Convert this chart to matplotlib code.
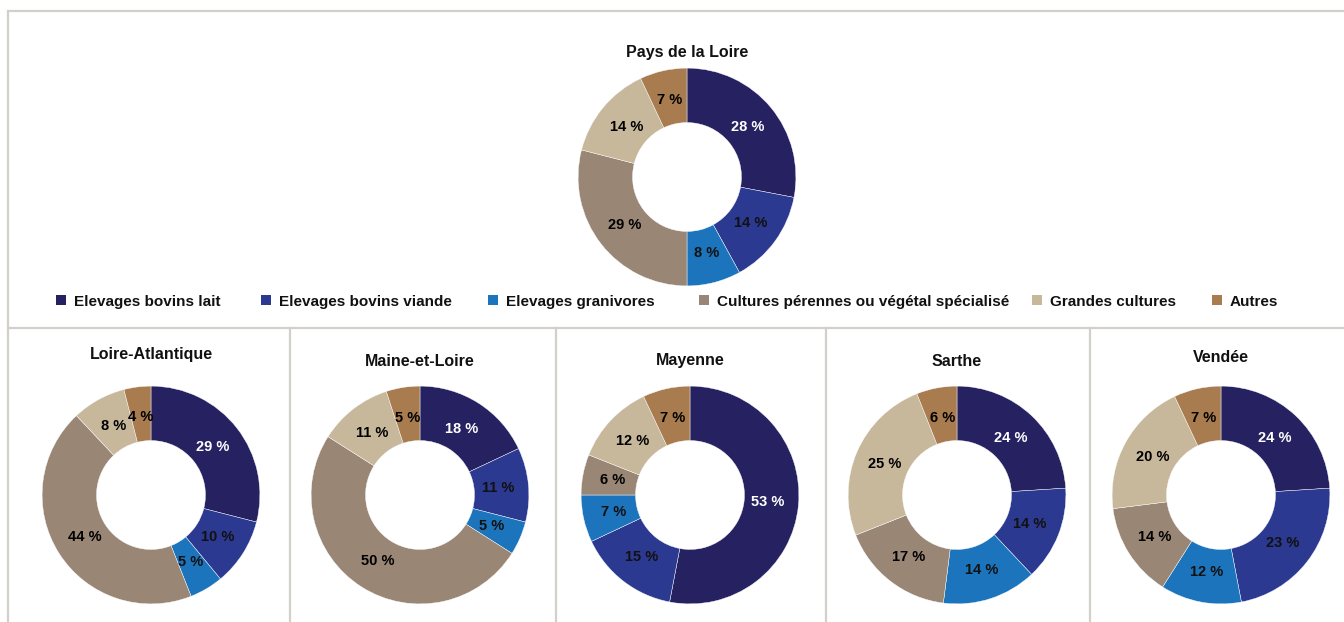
import matplotlib.pyplot as plt
from matplotlib.lines import Line2D
from matplotlib.patches import Rectangle

plt.rcParams['font.family'] = ['Liberation Sans', 'DejaVu Sans']
plt.rcParams['font.weight'] = 'bold'

# Orientation technico-économique : part des exploitations (%)
categories = ["Elevages bovins lait", "Elevages bovins viande", "Elevages granivores",
              "Cultures pérennes ou végétal spécialisé", "Grandes cultures", "Autres"]
colors = ["#262262", "#2b3990", "#1c75bc", "#998675", "#c7b89c", "#a97c50"]
text_colors = ["white", "white", "white", "#111111", "#111111", "#111111"]

region = "Pays de la Loire"
region_values = [28, 14, 8, 29, 14, 7]

departements = ["Loire-Atlantique", "Maine-et-Loire", "Mayenne", "Sarthe", "Vendée"]
loire_atlantique = [29, 10, 5, 44, 8, 4]
maine_et_loire = [18, 11, 5, 50, 11, 5]
mayenne = [53, 15, 7, 6, 12, 7]
sarthe = [24, 14, 14, 17, 25, 6]
vendee = [24, 23, 12, 14, 20, 7]
dep_values = [loire_atlantique, maine_et_loire, mayenne, sarthe, vendee]

W, H = 1344, 622
fig = plt.figure(figsize=(W / 100, H / 100), dpi=100)
fig.patch.set_facecolor("white")


def donut(cx, cy, r, values, title, title_y):
    # cx, cy, r en pixels (y compté depuis le haut)
    ax = fig.add_axes([(cx - r) / W, (H - cy - r) / H, 2 * r / W, 2 * r / H])
    ax.pie(values, colors=colors, startangle=90, counterclock=False, radius=1,
           wedgeprops=dict(width=0.5, edgecolor="white", linewidth=0.3),
           autopct=lambda p: f"{p:.0f} %", pctdistance=0.72,
           textprops=dict(fontsize=10.5, fontweight="bold"))
    for t, c in zip(ax.texts, text_colors):
        t.set_color(c)
    ax.set_xlim(-1.01, 1.01)
    ax.set_ylim(-1.01, 1.01)
    ax.set_aspect("equal")
    ax.axis("off")
    fig.text(cx / W, 1 - title_y / H, title, ha="center", va="center",
             fontsize=11.5, fontweight="bold", color="#111111")


# Graphique régional
donut(687, 177, 110, region_values, region, 53)

# Départements
dep_centers = [151, 420, 690, 957, 1221]
dep_title_y = [355, 361, 361, 361, 358]
for cx, vals, name, ty in zip(dep_centers, dep_values, departements, dep_title_y):
    donut(cx, 495, 110, vals, name, ty)

# Légende
leg_x = [56, 261, 488, 699, 1032, 1212]
for x, lab, col in zip(leg_x, categories, colors):
    fig.patches.append(Rectangle((x / W, 1 - 305 / H), 10 / W, 10 / H,
                                 transform=fig.transFigure, facecolor=col,
                                 edgecolor="none"))
    fig.text((x + 18) / W, 1 - 302 / H, lab, ha="left", va="center",
             fontsize=11, fontweight="bold", color="#111111")

# Cadres
line_kw = dict(color="#d3cfca", linewidth=1.6, transform=fig.transFigure)


def hline(y, x0, x1):
    fig.add_artist(Line2D([x0 / W, x1 / W], [1 - y / H, 1 - y / H], **line_kw))


def vline(x, y0, y1):
    fig.add_artist(Line2D([x / W, x / W], [1 - y0 / H, 1 - y1 / H], **line_kw))


hline(11, 8, W)
hline(328, 8, W)
vline(8, 11, H)
for x in [290, 556, 826, 1090]:
    vline(x, 328, H)

fig.savefig("out.png", dpi=100, facecolor="white")
